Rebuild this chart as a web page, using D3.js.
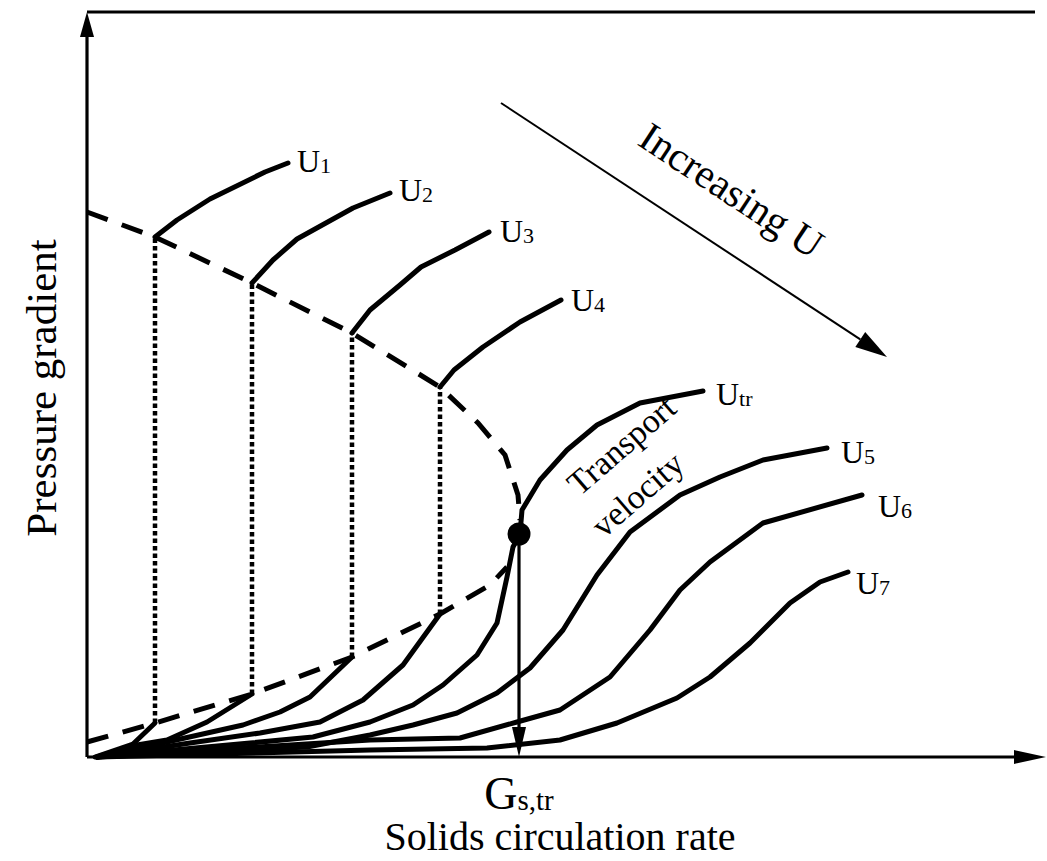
<!DOCTYPE html>
<html>
<head>
<meta charset="utf-8">
<script src="https://cdn.jsdelivr.net/npm/d3@7"></script>
<style>
  html, body { margin: 0; padding: 0; background: #fff; }
  text { font-family: "Liberation Serif", "Times New Roman", serif; fill: #000; }
</style>
</head>
<body>
<svg id="chart" width="1047" height="861"></svg>
<script>
// Schematic (arbitrary) units: solids circulation rate on x, pressure gradient on y.
const xDomain = [0, 960];
const yDomain = [0, 745];

// Dilute-side branches (low pressure gradient) for each gas velocity
const u1Low  = [[8,0],[46,13],[68,34]];
const u2Low  = [[10,0],[50,12],[80,17],[120,35],[165,63]];
const u3Low  = [[10,0],[80,15],[156,32],[193,45],[223,60],[265,100]];
const u4Low  = [[10,0],[103,14],[173,24],[233,35],[276,57],[316,92],[353,143]];
const utrLine = [[10,0],[163,14],[226,20],[283,35],[326,52],[356,72],[390,102],[410,134],
                 [420,180],[426,210],[433,223],[435,247],[453,277],[480,307],[510,332],[553,354],[616,366]];
const u5Line = [[10,0],[220,10],[283,22],[326,32],[370,44],[410,64],[443,89],[476,127],
                [510,182],[543,225],[593,262],[633,280],[676,297],[740,309]];
const u6Line = [[10,0],[283,17],[373,19],[430,35],[473,47],[523,80],[563,127],[593,167],
                [623,195],[676,234],[775,262]];
const u7Line = [[10,0],[283,7],[400,9],[473,17],[530,34],[590,59],[623,80],[663,114],
                [703,154],[733,175],[761,185]];

// Dense-side branches (after choking) for U1..U4
const u1High = [[68,520],[90,537],[123,558],[178,585],[201,594]];
const u2High = [[165,474],[186,497],[210,518],[266,549],[303,564]];
const u3High = [[265,424],[283,447],[313,472],[334,490],[368,507],[402,525]];
const u4High = [[353,370],[367,387],[396,410],[433,435],[474,457]];

// Choking boundaries (dashed)
const upperChoke = [[0,545],[68,520],[165,474],[265,424],[353,370],[391,334],[418,302],[431,262],[433,237]];
const lowerChoke = [[0,15],[68,34],[165,63],[265,100],[353,143],[403,172],[420,190]];

// Transport point
const gsTr = 432;
const gsTrGradient = 223;

// Curve labels
const labelBase = ["U","U","U","U","U","U","U","U"];
const labelSub  = ["1","2","3","4","tr","5","6","7"];

// Direction of increasing gas velocity
const increasingFrom = [414, 654];
const increasingTo   = [800, 400];

// ---------------------------------------------------------------
const curves = [
  { low: u1Low, high: u1High },
  { low: u2Low, high: u2High },
  { low: u3Low, high: u3High },
  { low: u4Low, high: u4High },
  { low: utrLine, high: null },
  { low: u5Line, high: null },
  { low: u6Line, high: null },
  { low: u7Line, high: null }
].map((c, i) => ({ ...c, base: labelBase[i], sub: labelSub[i] }));

// label offsets from the end of each curve, in pixels
const labelOffset = [[9,9],[9,8],[11,10],[10,11],[13,14],[14,15],[16,22],[8,22]];

const svg = d3.select("#chart");
const x = d3.scaleLinear().domain(xDomain).range([87, 1047]);
const y = d3.scaleLinear().domain(yDomain).range([757, 12]);

const line = d3.line().x(d => x(d[0])).y(d => y(d[1]));

// frame: top border, y axis, x axis
svg.append("line")
  .attr("x1", x(0)).attr("x2", x(948)).attr("y1", y(yDomain[1])).attr("y2", y(yDomain[1]))
  .attr("stroke", "#000").attr("stroke-width", 3.2);
svg.append("line")
  .attr("x1", x(0)).attr("x2", x(0)).attr("y1", y(0)).attr("y2", y(yDomain[1]) + 10)
  .attr("stroke", "#000").attr("stroke-width", 3.2);
svg.append("line")
  .attr("x1", x(0)).attr("x2", x(xDomain[1]) - 20).attr("y1", y(0)).attr("y2", y(0))
  .attr("stroke", "#000").attr("stroke-width", 3.2);

// axis arrowheads
svg.append("path")
  .attr("d", `M${x(0)},${y(yDomain[1])} l-7,25 l14,0 Z`)
  .attr("fill", "#000");
svg.append("path")
  .attr("d", `M${x(xDomain[1]) - 1},${y(0)} l-32,-7 l0,14 Z`)
  .attr("fill", "#000");

// choking boundaries
[upperChoke, lowerChoke].forEach(b => {
  svg.append("path").attr("d", line(b))
    .attr("fill", "none").attr("stroke", "#000").attr("stroke-width", 5)
    .attr("stroke-dasharray", "22,15");
});

// dotted vertical jumps at choking
curves.filter(c => c.high).forEach(c => {
  const a = c.low[c.low.length - 1], b = c.high[0];
  svg.append("line")
    .attr("x1", x(a[0])).attr("x2", x(b[0]))
    .attr("y1", y(a[1])).attr("y2", y(b[1]))
    .attr("stroke", "#000").attr("stroke-width", 4.5)
    .attr("stroke-dasharray", "4.5,3");
});

// velocity curves
curves.forEach(c => {
  [c.low, c.high].filter(Boolean).forEach(seg => {
    svg.append("path").attr("d", line(seg))
      .attr("fill", "none").attr("stroke", "#000").attr("stroke-width", 5)
      .attr("stroke-linejoin", "round").attr("stroke-linecap", "round");
  });
});

// curve labels
curves.forEach((c, i) => {
  const seg = c.high || c.low;
  const end = seg[seg.length - 1];
  const t = svg.append("text")
    .attr("x", x(end[0]) + labelOffset[i][0])
    .attr("y", y(end[1]) + labelOffset[i][1])
    .attr("font-size", 32);
  t.append("tspan").text(c.base);
  t.append("tspan").attr("font-size", 22).attr("dy", 1).text(c.sub);
});

// transport point and drop line to the axis
svg.append("line")
  .attr("x1", x(gsTr)).attr("x2", x(gsTr))
  .attr("y1", y(gsTrGradient)).attr("y2", y(0) - 26)
  .attr("stroke", "#000").attr("stroke-width", 3.2);
svg.append("path")
  .attr("d", `M${x(gsTr)},${y(0)} l-7,-30 l14,0 Z`)
  .attr("fill", "#000");
svg.append("circle")
  .attr("cx", x(gsTr)).attr("cy", y(gsTrGradient)).attr("r", 11.5)
  .attr("fill", "#000");

// increasing-U arrow
const ax1 = x(increasingFrom[0]), ay1 = y(increasingFrom[1]);
const ax2 = x(increasingTo[0]), ay2 = y(increasingTo[1]);
const ang = Math.atan2(ay2 - ay1, ax2 - ax1);
const headLen = 32, headW = 9;
svg.append("line")
  .attr("x1", ax1).attr("y1", ay1)
  .attr("x2", ax2 - headLen * Math.cos(ang)).attr("y2", ay2 - headLen * Math.sin(ang))
  .attr("stroke", "#000").attr("stroke-width", 2);
svg.append("path")
  .attr("d", `M0,0 L${-headLen},${-headW} L${-headLen},${headW} Z`)
  .attr("transform", `translate(${ax2},${ay2}) rotate(${ang * 180 / Math.PI})`)
  .attr("fill", "#000");
svg.append("text")
  .attr("transform", `translate(724,202) rotate(${ang * 180 / Math.PI})`)
  .attr("text-anchor", "middle").attr("font-size", 41)
  .text("Increasing U");

// transport velocity annotation
svg.append("text")
  .attr("transform", "translate(629,454) rotate(-41)")
  .attr("text-anchor", "middle").attr("font-size", 34)
  .text("Transport");
svg.append("text")
  .attr("transform", "translate(645,503) rotate(-41)")
  .attr("text-anchor", "middle").attr("font-size", 34)
  .text("velocity");

// axis titles
const g = svg.append("text")
  .attr("x", x(gsTr)).attr("y", 809)
  .attr("text-anchor", "middle").attr("font-size", 46);
g.append("tspan").text("G");
g.append("tspan").attr("font-size", 29).attr("dy", 1).text("s,tr");

svg.append("text")
  .attr("x", 560).attr("y", 850)
  .attr("text-anchor", "middle").attr("font-size", 40)
  .text("Solids circulation rate");

svg.append("text")
  .attr("transform", "translate(56,388) rotate(-90)")
  .attr("text-anchor", "middle").attr("font-size", 43)
  .text("Pressure gradient");
</script>
</body>
</html>
